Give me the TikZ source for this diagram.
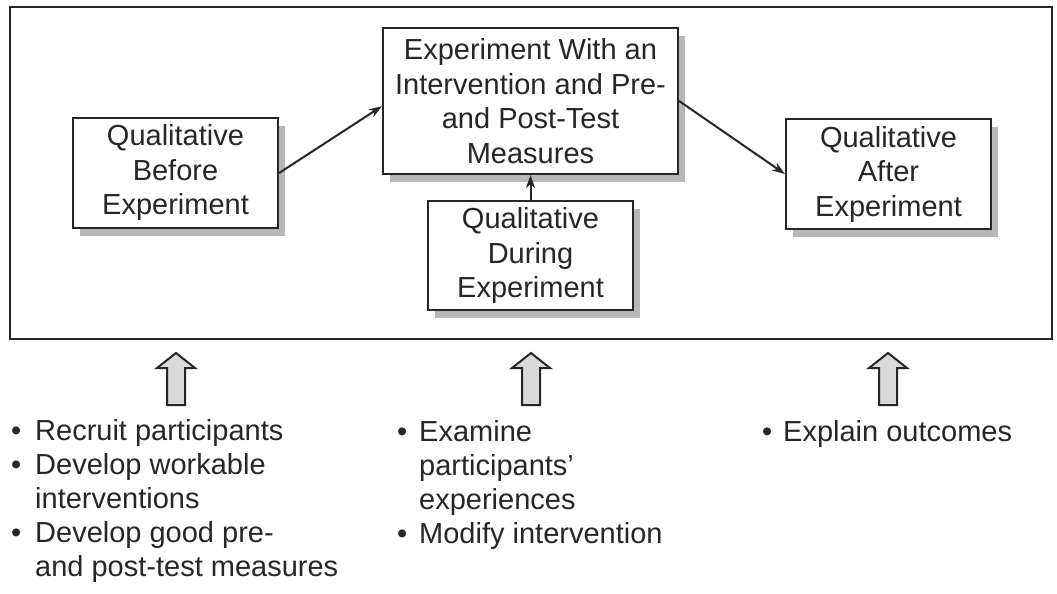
\documentclass[tikz,border=0pt]{standalone}
\usepackage{fontspec}
\setmainfont{Liberation Sans}
\usetikzlibrary{arrows.meta,shadows}
\begin{document}
\begin{tikzpicture}[x=1pt,y=-1pt,
  box/.style={draw=black!85,line width=2.2pt,fill=white,align=center,inner sep=0pt,
    font=\fontsize{29}{34.5}\selectfont,text=black!85,
    drop shadow={shadow xshift=7pt,shadow yshift=-8pt,fill=black!28,opacity=1}},
  conn/.style={draw=black!85,line width=2pt,-{Stealth[length=13pt,width=9pt]}},
  item/.style={anchor=base west,inner sep=0pt,font=\fontsize{29}{34.5}\selectfont,text=black!85},
  hollow/.style={draw=black!85,line width=2pt,fill=black!15,line join=miter},
  hollowarrow/.pic={\draw[hollow] (-9,52) -- (-9,15) -- (-19,15) -- (0,0) -- (19,15) -- (9,15) -- (9,52) -- cycle;}
]
\useasboundingbox (0,0) rectangle (1057,594);
\node[draw=black!85,line width=2pt,minimum width=1042pt,minimum height=332pt,inner sep=0pt] (frame) at (531,173) {};

\node[box,minimum width=205pt,minimum height=110pt] (before) at (175.5,173) {Qualitative\\Before\\Experiment};
\node[box,minimum width=295pt,minimum height=146pt] (exp) at (530.5,101) {Experiment With an\\Intervention and Pre-\\and Post-Test\\Measures};
\node[box,minimum width=205pt,minimum height=109pt] (during) at (530.5,255.5) {Qualitative\\During\\Experiment};
\node[box,minimum width=205pt,minimum height=110pt] (after) at (888.5,174) {Qualitative\\After\\Experiment};

\draw[conn] (before.east) -- (exp.182);
\draw[conn] (exp.east) -- (after.west);
\draw[conn] (during.north) -- (exp.south);

\pic at (176,353) {hollowarrow};
\pic at (531,353) {hollowarrow};
\pic at (888,353) {hollowarrow};

% left column
\node[item] (b1) at (11,440) {•};
\node[item] (l1) at (35,440) {Recruit participants};
\node[item] (b2) at (11,474) {•};
\node[item] (l2) at (35,474) {Develop workable};
\node[item] (l3) at (35,508) {interventions};
\node[item] (b3) at (11,542) {•};
\node[item] (l4) at (35,542) {Develop good pre-};
\node[item] (l5) at (35,576) {and post-test measures};
% middle column
\node[item] (b4) at (397,441) {•};
\node[item] (m1) at (419,441) {Examine};
\node[item] (m2) at (419,475) {participants’};
\node[item] (m3) at (419,509) {experiences};
\node[item] (b5) at (397,543) {•};
\node[item] (m4) at (419,543) {Modify intervention};
% right column
\node[item] (b6) at (762,441) {•};
\node[item] (r1) at (783,441) {Explain outcomes};
\end{tikzpicture}
\end{document}
